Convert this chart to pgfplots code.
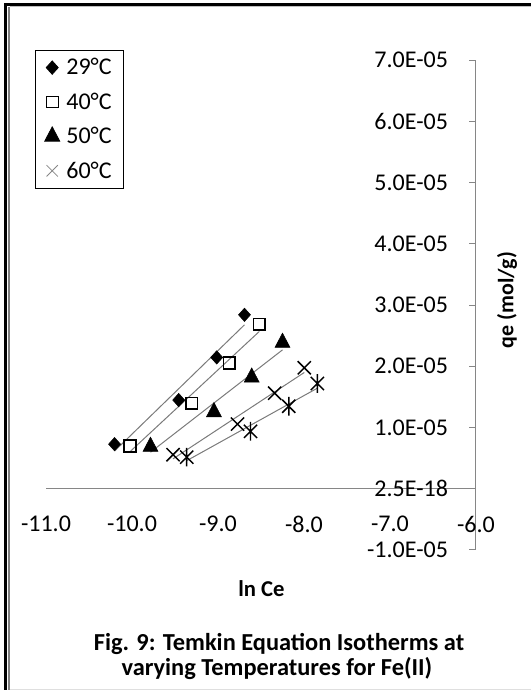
\documentclass[border=0pt]{standalone}
\usepackage{fontspec}
\setmainfont{Carlito}
\usepackage{pgfplots}
\usepackage{pgfplotstable}
\pgfplotsset{compat=1.18}
\definecolor{axisgray}{HTML}{868686}
\definecolor{trendgray}{HTML}{7A7A7A}
\newcommand\tl[1]{\mbox{\fontsize{18}{21}\selectfont #1}}

\pgfdeclareplotmark{xstar}{%
  \pgfpathmoveto{\pgfqpoint{-.7071\pgfplotmarksize}{-.7071\pgfplotmarksize}}%
  \pgfpathlineto{\pgfqpoint{.7071\pgfplotmarksize}{.7071\pgfplotmarksize}}%
  \pgfpathmoveto{\pgfqpoint{-.7071\pgfplotmarksize}{.7071\pgfplotmarksize}}%
  \pgfpathlineto{\pgfqpoint{.7071\pgfplotmarksize}{-.7071\pgfplotmarksize}}%
  \pgfpathmoveto{\pgfqpoint{0pt}{-\pgfplotmarksize}}%
  \pgfpathlineto{\pgfqpoint{0pt}{\pgfplotmarksize}}%
  \pgfusepathqstroke}

% 29 C
\pgfplotstableread{
x y
-10.203 7.28e-6
-9.457 1.448e-5
-9.015 2.144e-5
-8.692 2.840e-5
}\tabA
% 40 C
\pgfplotstableread{
x y
-10.023 6.96e-6
-9.306 1.396e-5
-8.869 2.050e-5
-8.520 2.684e-5
}\tabB
% 50 C
\pgfplotstableread{
x y
-9.785 6.87e-6
-9.047 1.252e-5
-8.608 1.817e-5
-8.250 2.385e-5
}\tabC
% 60 C
\pgfplotstableread{
x y
-9.523 5.56e-6
-8.773 1.056e-5
-8.341 1.560e-5
-7.997 1.975e-5
}\tabD
% extra series (not in legend)
\pgfplotstableread{
x y
-9.364 5.16e-6
-8.622 9.38e-6
-8.177 1.347e-5
-7.845 1.718e-5
}\tabE

\begin{document}
\begin{tikzpicture}[x=0.75pt,y=0.75pt]
\path[use as bounding box] (0,0) rectangle (531,690);
% page frame
\fill[black] (4,0) rectangle (7,687);
\fill[black] (4,684) rectangle (531,687);
\fill[gray] (8,0) rectangle (10,683);
\draw[gray!50, line width=0.5pt] (10,683.3) -- (531,683.3);
\draw[gray!25, line width=0.5pt] (10,0.6) -- (531,0.6);

\begin{axis}[
  at={(34.5pt,105pt)}, anchor=south west,
  scale only axis, width=322.5pt, height=367.5pt,
  xmin=-11, xmax=-6, ymin=-1e-5, ymax=7e-5,
  axis x line=middle, axis y line=right,
  axis line style={-, draw=axisgray, line width=0.75pt},
  hide obscured x ticks=false, hide obscured y ticks=false,
  xtick={-11,-10,-9,-8,-7,-6},
  xticklabels={\tl{-11.0},\tl{-10.0},\tl{-9.0},\tl{-8.0},\tl{-7.0},\tl{-6.0}},
  ytick={-1e-5,0,1e-5,2e-5,3e-5,4e-5,5e-5,6e-5,7e-5},
  yticklabels={\tl{-1.0E-05},\tl{2.5E-18},\tl{1.0E-05},\tl{2.0E-05},\tl{3.0E-05},\tl{4.0E-05},\tl{5.0E-05},\tl{6.0E-05},\tl{7.0E-05}},
  scaled y ticks=false, scaled x ticks=false,
  x tick style={draw=none},
  y tick style={draw=axisgray, line width=0.75pt},
  major tick length=5.25pt, tick align=inside,
  ticklabel style={text=black},
  yticklabel style={anchor=east, xshift=-17.5pt},
  xticklabel style={yshift=-17pt},
  clip=false,
  legend style={at={(-0.0256,1.0204)}, anchor=north west, draw=black,
    line width=0.6pt, font=\fontsize{18}{21}\selectfont,
    row sep=8pt, inner xsep=7pt, inner ysep=4pt,
    /tikz/every odd column/.append style={column sep=3pt}},
  legend cell align=left,
]
% trendlines
\addplot[forget plot, trendgray, line width=0.75pt] table[x=x, y={create col/linear regression={y=y}}] {\tabA};
\addplot[forget plot, trendgray, line width=0.75pt] table[x=x, y={create col/linear regression={y=y}}] {\tabB};
\addplot[forget plot, trendgray, line width=0.75pt] table[x=x, y={create col/linear regression={y=y}}] {\tabC};
\addplot[forget plot, trendgray, line width=0.75pt] table[x=x, y={create col/linear regression={y=y}}] {\tabD};
\addplot[forget plot, trendgray, line width=0.75pt] table[x=x, y={create col/linear regression={y=y}}] {\tabE};
% markers
\addplot[only marks, mark=diamond*, mark size=5pt, mark options={black, fill=black, xscale=1.2}] table[x=x,y=y] {\tabA};
\addlegendentry{29°C}
\addplot[only marks, mark=square, mark size=4.4pt, mark options={black, fill=white, line width=1.3pt},
  legend image code/.code={\draw[mark=square, mark size=4.4pt, mark options={black, fill=white, line width=0.75pt}] plot coordinates {(0.3cm,0cm)};}] table[x=x,y=y] {\tabB};
\addlegendentry{40°C}
\addplot[only marks, mark=triangle*, mark size=6.5pt, mark options={black, fill=black, yscale=1.1}] table[x=x,y=y] {\tabC};
\addlegendentry{50°C}
\addplot[only marks, mark=x, mark size=7pt, mark options={black, line width=1.1pt},
  legend image code/.code={\draw[mark=x, mark size=6pt, mark options={axisgray, line width=0.6pt}] plot coordinates {(0.3cm,0cm)};}] table[x=x,y=y] {\tabD};
\addlegendentry{60°C}
\addplot[forget plot, only marks, mark=xstar, mark size=7pt, mark options={black, line width=1.1pt}] table[x=x,y=y] {\tabE};
\end{axis}

\node[rotate=90, font=\bfseries\fontsize{16.5}{20}\selectfont] at (507,390) {qe (mol/g)};
\node[anchor=base, font=\bfseries\fontsize{17}{20}\selectfont] at (261.5,93) {ln Ce};
\node[anchor=base, font=\bfseries\fontsize{18.3}{20}\selectfont] at (279,39) {Fig. 9: Temkin Equation Isotherms at};
\node[anchor=base, font=\bfseries\fontsize{18.3}{20}\selectfont] at (277,14) {varying Temperatures for Fe(II)};
\end{tikzpicture}
\end{document}
